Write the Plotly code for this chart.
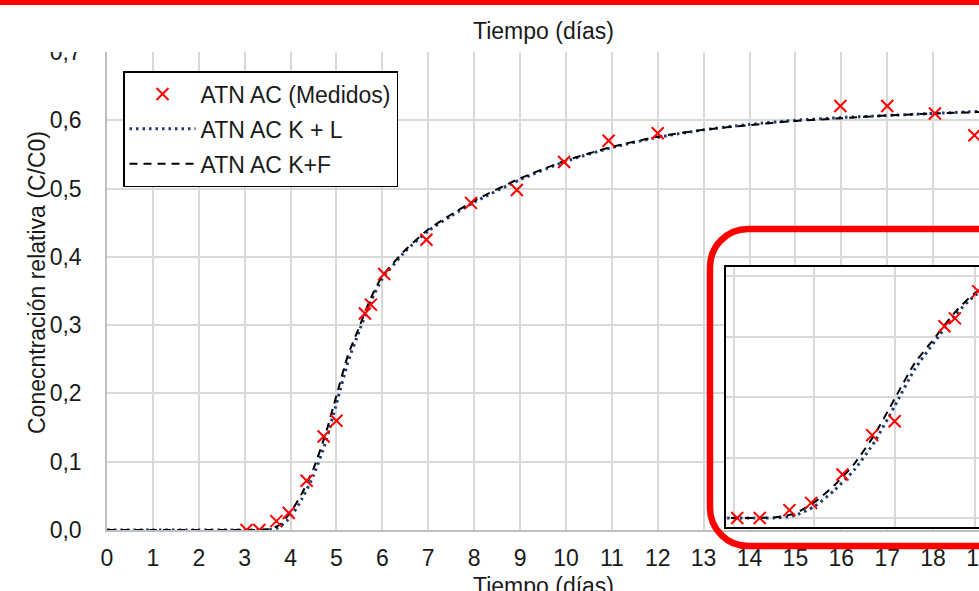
import plotly.graph_objects as go

# Measured relative concentration (ATN AC)
t_med = [3.04, 3.32, 3.69, 3.96, 4.35, 4.72, 5.00, 5.62, 5.75, 6.04,
         6.96, 7.93, 8.93, 9.96, 10.93, 12.00, 15.98, 17.00, 18.04, 18.90]
c_med = [0.000, 0.000, 0.013, 0.025, 0.072, 0.137, 0.160, 0.317, 0.330, 0.375,
         0.425, 0.479, 0.498, 0.539, 0.570, 0.581, 0.621, 0.621, 0.610, 0.578]

# Model curves
t_mod = [0, 1, 2, 3, 3.25, 3.5, 3.75, 4.0, 4.25, 4.5, 4.75, 5.0, 5.25, 5.5,
         5.75, 6.0, 6.5, 7.0, 7.5, 8.0, 9.0, 10, 11, 12, 13, 14, 15, 16, 17, 18, 19]
c_kl = [0, 0, 0, 0, 0.000, 0.000, 0.004, 0.019, 0.046, 0.080, 0.126, 0.185, 0.246, 0.292,
        0.335, 0.368, 0.408, 0.438, 0.460, 0.480, 0.513, 0.540, 0.560, 0.575, 0.586,
        0.594, 0.600, 0.604, 0.607, 0.610, 0.613]
c_kf = [0, 0, 0, 0, 0.000, 0.001, 0.007, 0.026, 0.054, 0.090, 0.138, 0.197, 0.256, 0.298,
        0.340, 0.372, 0.410, 0.440, 0.462, 0.482, 0.515, 0.541, 0.561, 0.576, 0.586,
        0.593, 0.599, 0.603, 0.607, 0.610, 0.612]

names = ["ATN AC (Medidos)", "ATN AC K + L", "ATN AC K+F"]
x_ticks = list(range(0, 20))

FONT = "Liberation Sans, Arial, sans-serif"
TXT = "#1a1a1a"
GRID = "#d9d9d9"
RED = "#ff0000"
NAVY = "#1f3a6e"
FS = 23

W, H = 979, 591
ML, MR, MT, MB = 107, 0, 52, 61
PW, PH = W - ML - MR, H - MT - MB


def px_x(px):
    return (px - ML) / PW


def px_y(py):
    return (H - MB - py) / PH


fig = go.Figure()

for axes, show in ((("x", "y"), True), (("x2", "y2"), False)):
    xa, ya = axes
    fig.add_trace(go.Scatter(
        x=t_mod, y=c_kl, mode="lines", name=names[1], showlegend=show,
        legendrank=2, legendgroup="kl", xaxis=xa, yaxis=ya,
        line=dict(color=NAVY, width=3, dash="2.5px,4px", shape="spline", smoothing=0.6)))
    fig.add_trace(go.Scatter(
        x=t_mod, y=c_kf, mode="lines", name=names[2], showlegend=show,
        legendrank=3, legendgroup="kf", xaxis=xa, yaxis=ya,
        line=dict(color="black", width=2, dash="8px,6px", shape="spline", smoothing=0.6)))
    fig.add_trace(go.Scatter(
        x=t_med, y=c_med, mode="markers", name=names[0], showlegend=show,
        legendrank=1, legendgroup="med", xaxis=xa, yaxis=ya,
        marker=dict(symbol="x-thin", size=12, line=dict(color=RED, width=2), color=RED)))

# inset frame (pixel positions of the zoom window)
in_l, in_t, in_b = 726, 267, 527
gx3, gx6 = 734, 975
gy0, gy4 = 518, 276
sx = (gx6 - gx3) / 3.0
sy = (gy0 - gy4) / 0.4
in_x0 = 3 - (gx3 - in_l) / sx
in_x1 = 3 + (W - gx3) / sx
in_y0 = -(in_b - gy0) / sy
in_y1 = 0.4 + (gy4 - in_t) / sy

axis_font = dict(family=FONT, size=FS, color=TXT)

fig.update_layout(
    width=W, height=H,
    margin=dict(l=ML, r=MR, t=MT, b=MB, pad=0, autoexpand=False),
    paper_bgcolor="white", plot_bgcolor="white",
    separators=",.",
    font=dict(family=FONT, size=FS, color=TXT),
    showlegend=True,
    legend=dict(
        x=px_x(123), y=px_y(71), xanchor="left", yanchor="top",
        bgcolor="white", bordercolor="black", borderwidth=1.5,
        font=dict(family=FONT, size=FS, color=TXT),
        traceorder="grouped", tracegroupgap=2, itemwidth=66,
    ),
    xaxis=dict(
        range=[0, 19], tick0=0, dtick=1, tickvals=x_ticks,
        showgrid=True, gridcolor=GRID, gridwidth=1.5,
        showline=True, linecolor="#bfbfbf", linewidth=1.5,
        zeroline=False, ticks="", tickfont=axis_font, ticklabelstandoff=7,
        ticklabeloverflow="allow", automargin=False,
    ),
    yaxis=dict(
        range=[0, 0.7], tick0=0, dtick=0.1, tickformat=".1f",
        showgrid=True, gridcolor=GRID, gridwidth=1.5,
        showline=True, linecolor="#bfbfbf", linewidth=1.5,
        zeroline=False, ticks="", tickfont=axis_font, ticklabelstandoff=19,
        automargin=False,
    ),
    xaxis2=dict(
        domain=[px_x(in_l), 1], anchor="y2", range=[in_x0, in_x1],
        tick0=0, dtick=1, showticklabels=False, ticks="",
        showgrid=True, gridcolor=GRID, gridwidth=1.5,
        showline=True, linecolor="black", linewidth=2, mirror=True, zeroline=False,
    ),
    yaxis2=dict(
        domain=[px_y(in_b), px_y(in_t)], anchor="x2", range=[in_y0, in_y1],
        tick0=0, dtick=0.1, showticklabels=False, ticks="",
        showgrid=True, gridcolor=GRID, gridwidth=1.5,
        showline=True, linecolor="black", linewidth=2, mirror=False, zeroline=False,
    ),
)

# axis titles
fig.add_annotation(text="Tiempo (días)", xref="paper", yref="paper",
                   x=0.5, y=px_y(31), xanchor="center", yanchor="middle",
                   showarrow=False, font=axis_font)
fig.add_annotation(text="Tiempo (días)", xref="paper", yref="paper",
                   x=0.5, y=px_y(586), xanchor="center", yanchor="middle",
                   showarrow=False, font=axis_font)
fig.add_annotation(text="Conecntración relativa (C/C0)", xref="paper", yref="paper",
                   x=px_x(37), y=px_y(283), xanchor="center", yanchor="middle",
                   textangle=-90, showarrow=False, font=axis_font)

# red band along the top edge
fig.add_shape(type="rect", xref="paper", yref="paper",
              x0=px_x(-5), x1=px_x(W + 5), y0=px_y(5), y1=px_y(-3),
              fillcolor=RED, line=dict(width=0), layer="above")

# white strip trimming the top tick label
fig.add_shape(type="rect", xref="paper", yref="paper",
              x0=px_x(0), x1=px_x(100), y0=px_y(52), y1=px_y(43),
              fillcolor="white", line=dict(width=0), layer="above")

# rounded red highlight around the inset
L, T, B, R, r = 710, 229, 546, W + 40, 38
k = 0.45 * r
path = (
    f"M {px_x(R)},{px_y(T)} L {px_x(L + r)},{px_y(T)} "
    f"C {px_x(L + r - (r - k))},{px_y(T)} {px_x(L)},{px_y(T + k)} {px_x(L)},{px_y(T + r)} "
    f"L {px_x(L)},{px_y(B - r)} "
    f"C {px_x(L)},{px_y(B - k)} {px_x(L + k)},{px_y(B)} {px_x(L + r)},{px_y(B)} "
    f"L {px_x(R)},{px_y(B)}"
)
fig.add_shape(type="path", xref="paper", yref="paper", path=path,
              line=dict(color=RED, width=6.5), layer="above")

fig.write_html("out.html")
